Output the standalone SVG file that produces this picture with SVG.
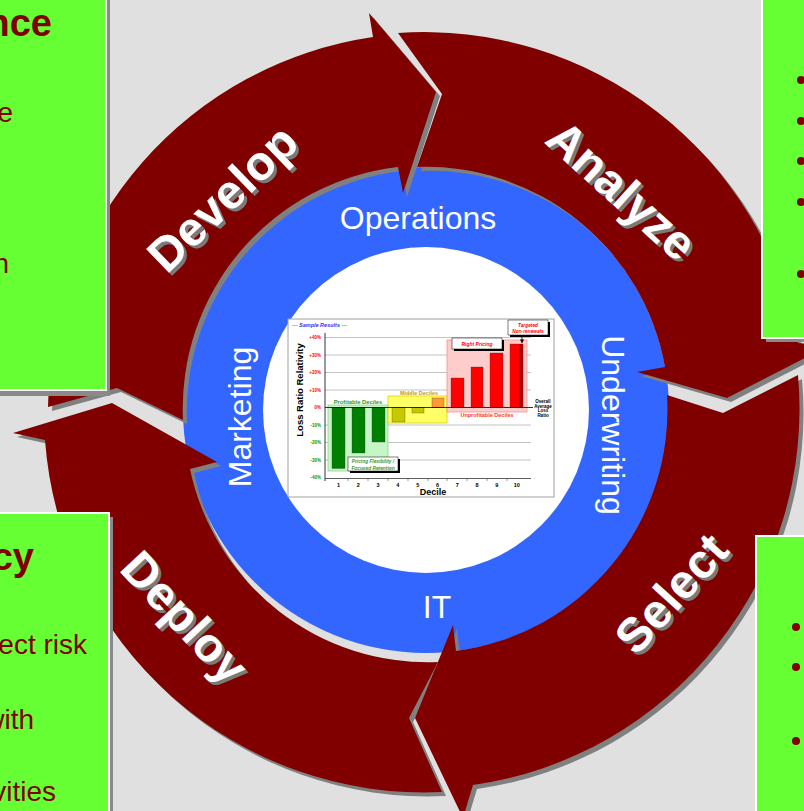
<svg xmlns="http://www.w3.org/2000/svg" width="804" height="811" viewBox="0 0 804 811">
<defs>
<style>
.arrow{fill:#800000}
.ashadow{fill:#808080}
.alabel{font-family:"Liberation Sans",Arial,sans-serif;font-weight:bold;font-size:48px;fill:#fff;text-anchor:middle}
.alabel-sh{font-family:"Liberation Sans",Arial,sans-serif;font-weight:bold;font-size:48px;fill:#7a7a7a;text-anchor:middle}
.ring{font-family:"Liberation Sans",Arial,sans-serif;font-size:32px;fill:#fff;text-anchor:middle}
.box{fill:#66FF33;stroke:#fff;stroke-width:2}
.boxsh{fill:#8a8a8a}
.btitle{font-family:"Liberation Sans",Arial,sans-serif;font-weight:bold;font-size:38px;fill:#800000;text-anchor:end}
.btext{font-family:"Liberation Sans",Arial,sans-serif;font-size:28px;fill:#800000;text-anchor:end}
.bullet{fill:#800000}
.c{font-family:"Liberation Sans",Arial,sans-serif;font-weight:bold}
.grid{stroke:#b4b4b4;stroke-width:0.8}
.ypos{font-size:4.5px;fill:#ff0000;text-anchor:end}
.yneg{font-size:4.5px;fill:#009900;text-anchor:end}
.xl{font-size:5.5px;fill:#000;text-anchor:middle}
.call{fill:#fff;stroke:#000;stroke-width:0.5}
.callsh{fill:#000}
.ctx{font-style:italic;text-anchor:middle}
</style>
<path id="p-develop" d="M48 407 A380 380 0 0 1 373 37 L369 13 L436 92 L403 193 L398 167 A243 243 0 0 0 183 420 L117 388 Z"/>
<path id="p-analyze" d="M398 33 A380 380 0 0 1 798 343 L830 345 L727 398 L637 372 L665 367 A243 243 0 0 0 417 167 L442 94 Z"/>
<path id="p-select" d="M798 375 A380 380 0 0 1 473 785 L463 818 L415 718 L453 625 L456 651 A243 243 0 0 0 667 395 L723 413 Z"/>
<path id="p-deploy" d="M442 792 A380 380 0 0 1 45 440 L13 433 L112 403 L217 462 L190 469 A243 243 0 0 0 438 662 L409 718 Z"/>
</defs>

<rect width="804" height="811" fill="#E0E0E0"/>

<!-- blue hub behind the cycle -->
<g id="hub">
<circle cx="426" cy="410" r="243" fill="#3366FF"/>
</g>

<!-- drop shadows of the four cycle arrows -->
<g id="arrow-shadows">
<use href="#p-develop" class="ashadow" transform="translate(4,4)"/>
<use href="#p-analyze" class="ashadow" transform="translate(4,4)"/>
<use href="#p-select" class="ashadow" transform="translate(4,4)"/>
<use href="#p-deploy" class="ashadow" transform="translate(4,4)"/>
</g>

<g id="develop">
<use href="#p-develop" class="arrow"/>
<text class="alabel-sh" transform="translate(225,201) rotate(-44)" y="17">Develop</text>
<text class="alabel" transform="translate(222,198) rotate(-44)" y="17">Develop</text>
</g>
<g id="analyze">
<use href="#p-analyze" class="arrow"/>
<text class="alabel-sh" transform="translate(625,193) rotate(42)" y="17">Analyze</text>
<text class="alabel" transform="translate(622,190) rotate(42)" y="17">Analyze</text>
</g>
<g id="select">
<use href="#p-select" class="arrow"/>
<text class="alabel-sh" transform="translate(674,596) rotate(-48)" y="17">Select</text>
<text class="alabel" transform="translate(671,593) rotate(-48)" y="17">Select</text>
</g>
<g id="deploy">
<use href="#p-deploy" class="arrow"/>
<text class="alabel-sh" transform="translate(188,620) rotate(47)" y="17">Deploy</text>
<text class="alabel" transform="translate(185,617) rotate(47)" y="17">Deploy</text>
</g>

<!-- inner disk and department labels -->
<g id="core">
<circle cx="426" cy="410" r="163" fill="#fff"/>
</g>
<g id="dept-labels">
<text class="ring" x="418" y="229">Operations</text>
<text class="ring" transform="translate(251,417) rotate(-90)">Marketing</text>
<text class="ring" transform="translate(602,425) rotate(90)">Underwriting</text>
<text class="ring" x="437" y="618">IT</text>
</g>

<!-- decile chart -->
<g id="chart" class="c">
<rect x="288" y="319" width="266" height="178" fill="#fff" stroke="#a0a0a0" stroke-width="1"/>
<text x="292" y="327" font-size="5.5" font-style="italic" fill="#3333ff">--- Sample Results ---</text>
<g class="grid">
<line x1="325" y1="337.5" x2="531" y2="337.5"/>
<line x1="325" y1="355" x2="531" y2="355"/>
<line x1="325" y1="372.5" x2="531" y2="372.5"/>
<line x1="325" y1="390" x2="531" y2="390"/>
<line x1="325" y1="425" x2="531" y2="425"/>
<line x1="325" y1="442.5" x2="531" y2="442.5"/>
<line x1="325" y1="460" x2="531" y2="460"/>
</g>
<rect x="328" y="405" width="60" height="66" fill="#C6F5C6" stroke="#7FD17F" stroke-width="0.7"/>
<rect x="388" y="396" width="59" height="27" fill="#FFFF66" stroke="#CCCC00" stroke-width="0.7"/>
<rect x="447" y="340" width="80" height="72" fill="#FFCCCC" stroke="#FF8080" stroke-width="0.7"/>
<g stroke="#333" stroke-width="0.3">
<rect x="332" y="407.5" width="13" height="61" fill="#008000"/>
<rect x="352" y="407.5" width="13" height="45.5" fill="#008000"/>
<rect x="372" y="407.5" width="13" height="34.5" fill="#008000"/>
<rect x="392" y="407.5" width="13" height="14.5" fill="#C8C800"/>
<rect x="412" y="407.5" width="12" height="5.5" fill="#C8C800"/>
<rect x="432" y="398" width="12" height="9.5" fill="#FF9933"/>
<rect x="451" y="378" width="13" height="29.5" fill="#FF0000"/>
<rect x="471" y="367" width="12" height="40.5" fill="#FF0000"/>
<rect x="490" y="353" width="13" height="54.5" fill="#FF0000"/>
<rect x="510" y="344" width="13" height="63.5" fill="#FF0000"/>
</g>
<rect x="519.5" y="344" width="3.5" height="63.5" fill="#B00000"/>
<line x1="325" y1="407.5" x2="533" y2="407.5" stroke="#000" stroke-width="0.8"/>
<line x1="325" y1="333" x2="325" y2="481" stroke="#000" stroke-width="0.8"/>
<line x1="325" y1="478.5" x2="531" y2="478.5" stroke="#333" stroke-width="0.8"/>
<g stroke="#333" stroke-width="0.5">
<line x1="348" y1="478.5" x2="348" y2="481"/>
<line x1="368" y1="478.5" x2="368" y2="481"/>
<line x1="388" y1="478.5" x2="388" y2="481"/>
<line x1="408" y1="478.5" x2="408" y2="481"/>
<line x1="428" y1="478.5" x2="428" y2="481"/>
<line x1="447" y1="478.5" x2="447" y2="481"/>
<line x1="467" y1="478.5" x2="467" y2="481"/>
<line x1="487" y1="478.5" x2="487" y2="481"/>
<line x1="507" y1="478.5" x2="507" y2="481"/>
</g>
<text class="ypos" x="321" y="339.2">+40%</text>
<text class="ypos" x="321" y="356.7">+30%</text>
<text class="ypos" x="321" y="374.2">+20%</text>
<text class="ypos" x="321" y="391.7">+10%</text>
<text class="ypos" x="321" y="409.2" fill="#000">0%</text>
<text class="yneg" x="321" y="426.7">-10%</text>
<text class="yneg" x="321" y="444.2">-20%</text>
<text class="yneg" x="321" y="461.7">-30%</text>
<text class="yneg" x="321" y="479.2">-40%</text>
<text class="xl" x="338.5" y="487">1</text>
<text class="xl" x="358.3" y="487">2</text>
<text class="xl" x="378.1" y="487">3</text>
<text class="xl" x="397.9" y="487">4</text>
<text class="xl" x="417.7" y="487">5</text>
<text class="xl" x="437.5" y="487">6</text>
<text class="xl" x="457.3" y="487">7</text>
<text class="xl" x="477.1" y="487">8</text>
<text class="xl" x="496.9" y="487">9</text>
<text class="xl" x="516.7" y="487">10</text>
<text x="433" y="495" font-size="9" text-anchor="middle">Decile</text>
<text transform="translate(303,390) rotate(-90)" font-size="9.5" text-anchor="middle">Loss Ratio Relativity</text>
<text x="358" y="403.5" font-size="5.8" fill="#339933" text-anchor="middle">Profitable Deciles</text>
<text x="419" y="395" font-size="5.5" fill="#CC9900" text-anchor="middle">Middle Deciles</text>
<text x="487" y="417" font-size="5.5" fill="#FF3333" text-anchor="middle">Unprofitable Deciles</text>
<g font-size="4.5" text-anchor="middle" fill="#000">
<text x="543" y="402.5">Overall</text>
<text x="543" y="407.5">Average</text>
<text x="543" y="412">Loss</text>
<text x="543" y="416.5">Ratio</text>
</g>
<rect class="callsh" x="454" y="340" width="50" height="11"/>
<rect class="call" x="452" y="338" width="50" height="11"/>
<text class="ctx" x="477" y="345.5" font-size="5" fill="#ff0000">Right Pricing</text>
<rect class="callsh" x="510" y="322" width="40" height="15"/>
<rect class="call" x="508" y="320" width="40" height="15"/>
<text class="ctx" x="528" y="326.5" font-size="4.8" fill="#ff0000">Targeted</text>
<text class="ctx" x="528" y="332.5" font-size="4.8" fill="#ff0000">Non-renewals</text>
<line x1="522" y1="335" x2="522" y2="340" stroke="#000" stroke-width="0.8"/>
<polygon points="520,339.5 524,339.5 522,343.5" fill="#000"/>
<rect class="callsh" x="350" y="459" width="50" height="14"/>
<rect class="call" x="348" y="457" width="50" height="14"/>
<text class="ctx" x="373" y="463" font-size="4.8" fill="#339933">Pricing Flexibility /</text>
<text class="ctx" x="373" y="469.5" font-size="4.8" fill="#339933">Focused Retention</text>
</g>

<!-- side panels -->
<g id="panel-top-left">
<rect class="boxsh" x="-10" y="-6" width="120" height="402"/>
<rect class="box" x="-10" y="-10" width="116" height="400"/>
<text class="btitle" x="52" y="36">nce</text>
<text class="btext" x="13" y="122">e</text>
<text class="btext" x="9" y="273">n</text>
</g>
<g id="panel-bottom-left">
<rect class="boxsh" x="-6" y="517" width="119" height="310"/>
<rect class="box" x="-10" y="513" width="119" height="310"/>
<text class="btitle" x="34" y="570">cy</text>
<text class="btext" x="87" y="654">ect risk</text>
<text class="btext" x="34" y="729">with</text>
<text class="btext" x="56" y="801">vities</text>
</g>
<g id="panel-top-right">
<rect class="boxsh" x="766" y="-6" width="60" height="348"/>
<rect class="box" x="762" y="-10" width="60" height="348"/>
<circle class="bullet" cx="801" cy="80" r="4"/>
<circle class="bullet" cx="801" cy="121" r="4"/>
<circle class="bullet" cx="801" cy="161" r="4"/>
<circle class="bullet" cx="801" cy="202" r="4"/>
<circle class="bullet" cx="801" cy="274" r="4"/>
</g>
<g id="panel-bottom-right">
<rect class="boxsh" x="760" y="540" width="60" height="290"/>
<rect class="box" x="756" y="536" width="60" height="290"/>
<circle class="bullet" cx="796" cy="627" r="4"/>
<circle class="bullet" cx="796" cy="667" r="4"/>
<circle class="bullet" cx="796" cy="741" r="4"/>
</g>
</svg>
